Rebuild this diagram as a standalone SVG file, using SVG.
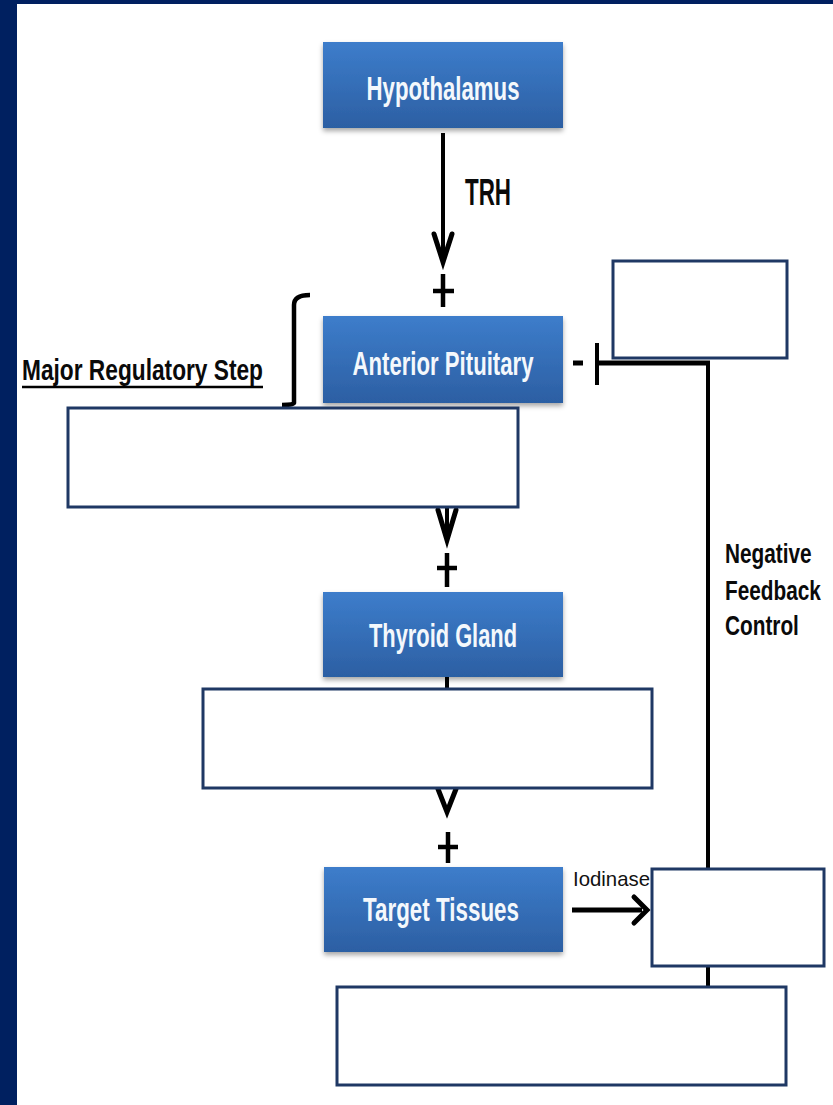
<svg xmlns="http://www.w3.org/2000/svg" width="833" height="1105" viewBox="0 0 833 1105">
<defs>
<linearGradient id="blueGrad" x1="0" y1="0" x2="0" y2="1">
<stop offset="0" stop-color="#3d7dcb"/>
<stop offset="1" stop-color="#2c5fa3"/>
</linearGradient>
<filter id="shadow" x="-10%" y="-10%" width="120%" height="130%">
<feDropShadow dx="0" dy="3" stdDeviation="2.5" flood-color="#000" flood-opacity="0.35"/>
</filter>
<style>
.organ{fill:url(#blueGrad);filter:url(#shadow)}
.organText{font-family:"Liberation Sans Narrow","Liberation Sans",Arial,sans-serif;font-weight:bold;font-size:34px;fill:#f4f8fc;text-anchor:middle}
.blank{fill:#ffffff;stroke:#1f3864;stroke-width:3}
.lbl{font-family:"Liberation Sans Narrow","Liberation Sans",Arial,sans-serif;font-weight:bold;fill:#0a0a0a}
.fb{font-family:"Liberation Sans",Arial,sans-serif;font-weight:bold;font-size:27px;fill:#0a0a0a}
.line{stroke:#000;stroke-width:4;fill:none;stroke-linecap:butt}
.chev{stroke:#000;stroke-width:5;fill:none;stroke-linejoin:miter;stroke-linecap:round}
.plus{stroke:#000;stroke-width:4.5;fill:none}
</style>
</defs>
<rect x="0" y="0" width="833" height="1105" fill="#ffffff"/>
<rect x="0" y="0" width="833" height="4" fill="#002060"/>
<rect x="0" y="0" width="17" height="1105" fill="#002060"/>

<g id="connectors">
<line class="line" x1="443" y1="133" x2="443" y2="261"/>
<polyline class="chev" points="434,234 443,262 452,234"/>
<path class="plus" d="M443 274 V307 M433 291 H454"/>
<polyline class="chev" points="438,510 447,540 456,510"/>
<line class="line" x1="447" y1="506" x2="447" y2="538"/>
<path class="plus" d="M447 553 V587 M437 568 H457"/>
<line class="line" x1="447" y1="677" x2="447" y2="690"/>
<polyline class="chev" points="438,789 447,812 456,789"/>
<path class="plus" d="M448 832 V863 M438 847 H458"/>
<line x1="572" y1="910" x2="642" y2="910" stroke="#000" stroke-width="5"/>
<polyline class="chev" points="634,897 647,910 634,923"/>
<path d="M310 295 Q294 295 294 305 V403 Q294 405 282 405" stroke="#000" stroke-width="4.5" fill="none"/>
<line x1="573" y1="363" x2="583" y2="363" stroke="#000" stroke-width="5"/>
<line x1="597" y1="343" x2="597" y2="385" stroke="#000" stroke-width="4"/>
<line x1="597" y1="363" x2="710" y2="363" stroke="#000" stroke-width="5"/>
<line class="line" x1="708" y1="361" x2="708" y2="995"/>
</g>

<g id="hypothalamus">
<rect class="organ" x="323" y="42" width="240" height="86"/>
<text class="organText" x="443" y="100" textLength="153" lengthAdjust="spacingAndGlyphs">Hypothalamus</text>
</g>
<g id="anterior-pituitary">
<rect class="organ" x="323" y="316" width="240" height="87"/>
<text class="organText" x="443" y="375" textLength="181" lengthAdjust="spacingAndGlyphs">Anterior Pituitary</text>
</g>
<g id="thyroid-gland">
<rect class="organ" x="323" y="592" width="240" height="85"/>
<text class="organText" x="443" y="647" textLength="148" lengthAdjust="spacingAndGlyphs">Thyroid Gland</text>
</g>
<g id="target-tissues">
<rect class="organ" x="324" y="867" width="239" height="85"/>
<text class="organText" x="441" y="921" textLength="156" lengthAdjust="spacingAndGlyphs">Target Tissues</text>
</g>

<g id="labels">
<text class="lbl" x="465" y="205" font-size="36" textLength="46" lengthAdjust="spacingAndGlyphs">TRH</text>
<text class="lbl" x="22" y="380" font-size="30" textLength="241" lengthAdjust="spacingAndGlyphs">Major Regulatory Step</text>
<line x1="22" y1="387" x2="263" y2="387" stroke="#000" stroke-width="2.5"/>
<g transform="translate(725,0) scale(0.77,1)">
<text class="fb" x="0" y="563">Negative</text>
<text class="fb" x="0" y="600">Feedback</text>
<text class="fb" x="0" y="635">Control</text>
</g>
<text x="573" y="886" font-family="'Liberation Sans Narrow','Liberation Sans',Arial,sans-serif" font-size="21" fill="#111" textLength="77" lengthAdjust="spacingAndGlyphs">Iodinase</text>
</g>

<g id="blank-box-tsh"><rect class="blank" x="68" y="408" width="450" height="99"/></g>
<g id="blank-box-top-right"><rect class="blank" x="613" y="261" width="174" height="97"/></g>
<g id="blank-box-t4"><rect class="blank" x="203" y="689" width="449" height="99"/></g>
<g id="blank-box-t3"><rect class="blank" x="652" y="869" width="172" height="97"/></g>
<g id="blank-box-bottom"><rect class="blank" x="337" y="987" width="449" height="98"/></g>
</svg>
